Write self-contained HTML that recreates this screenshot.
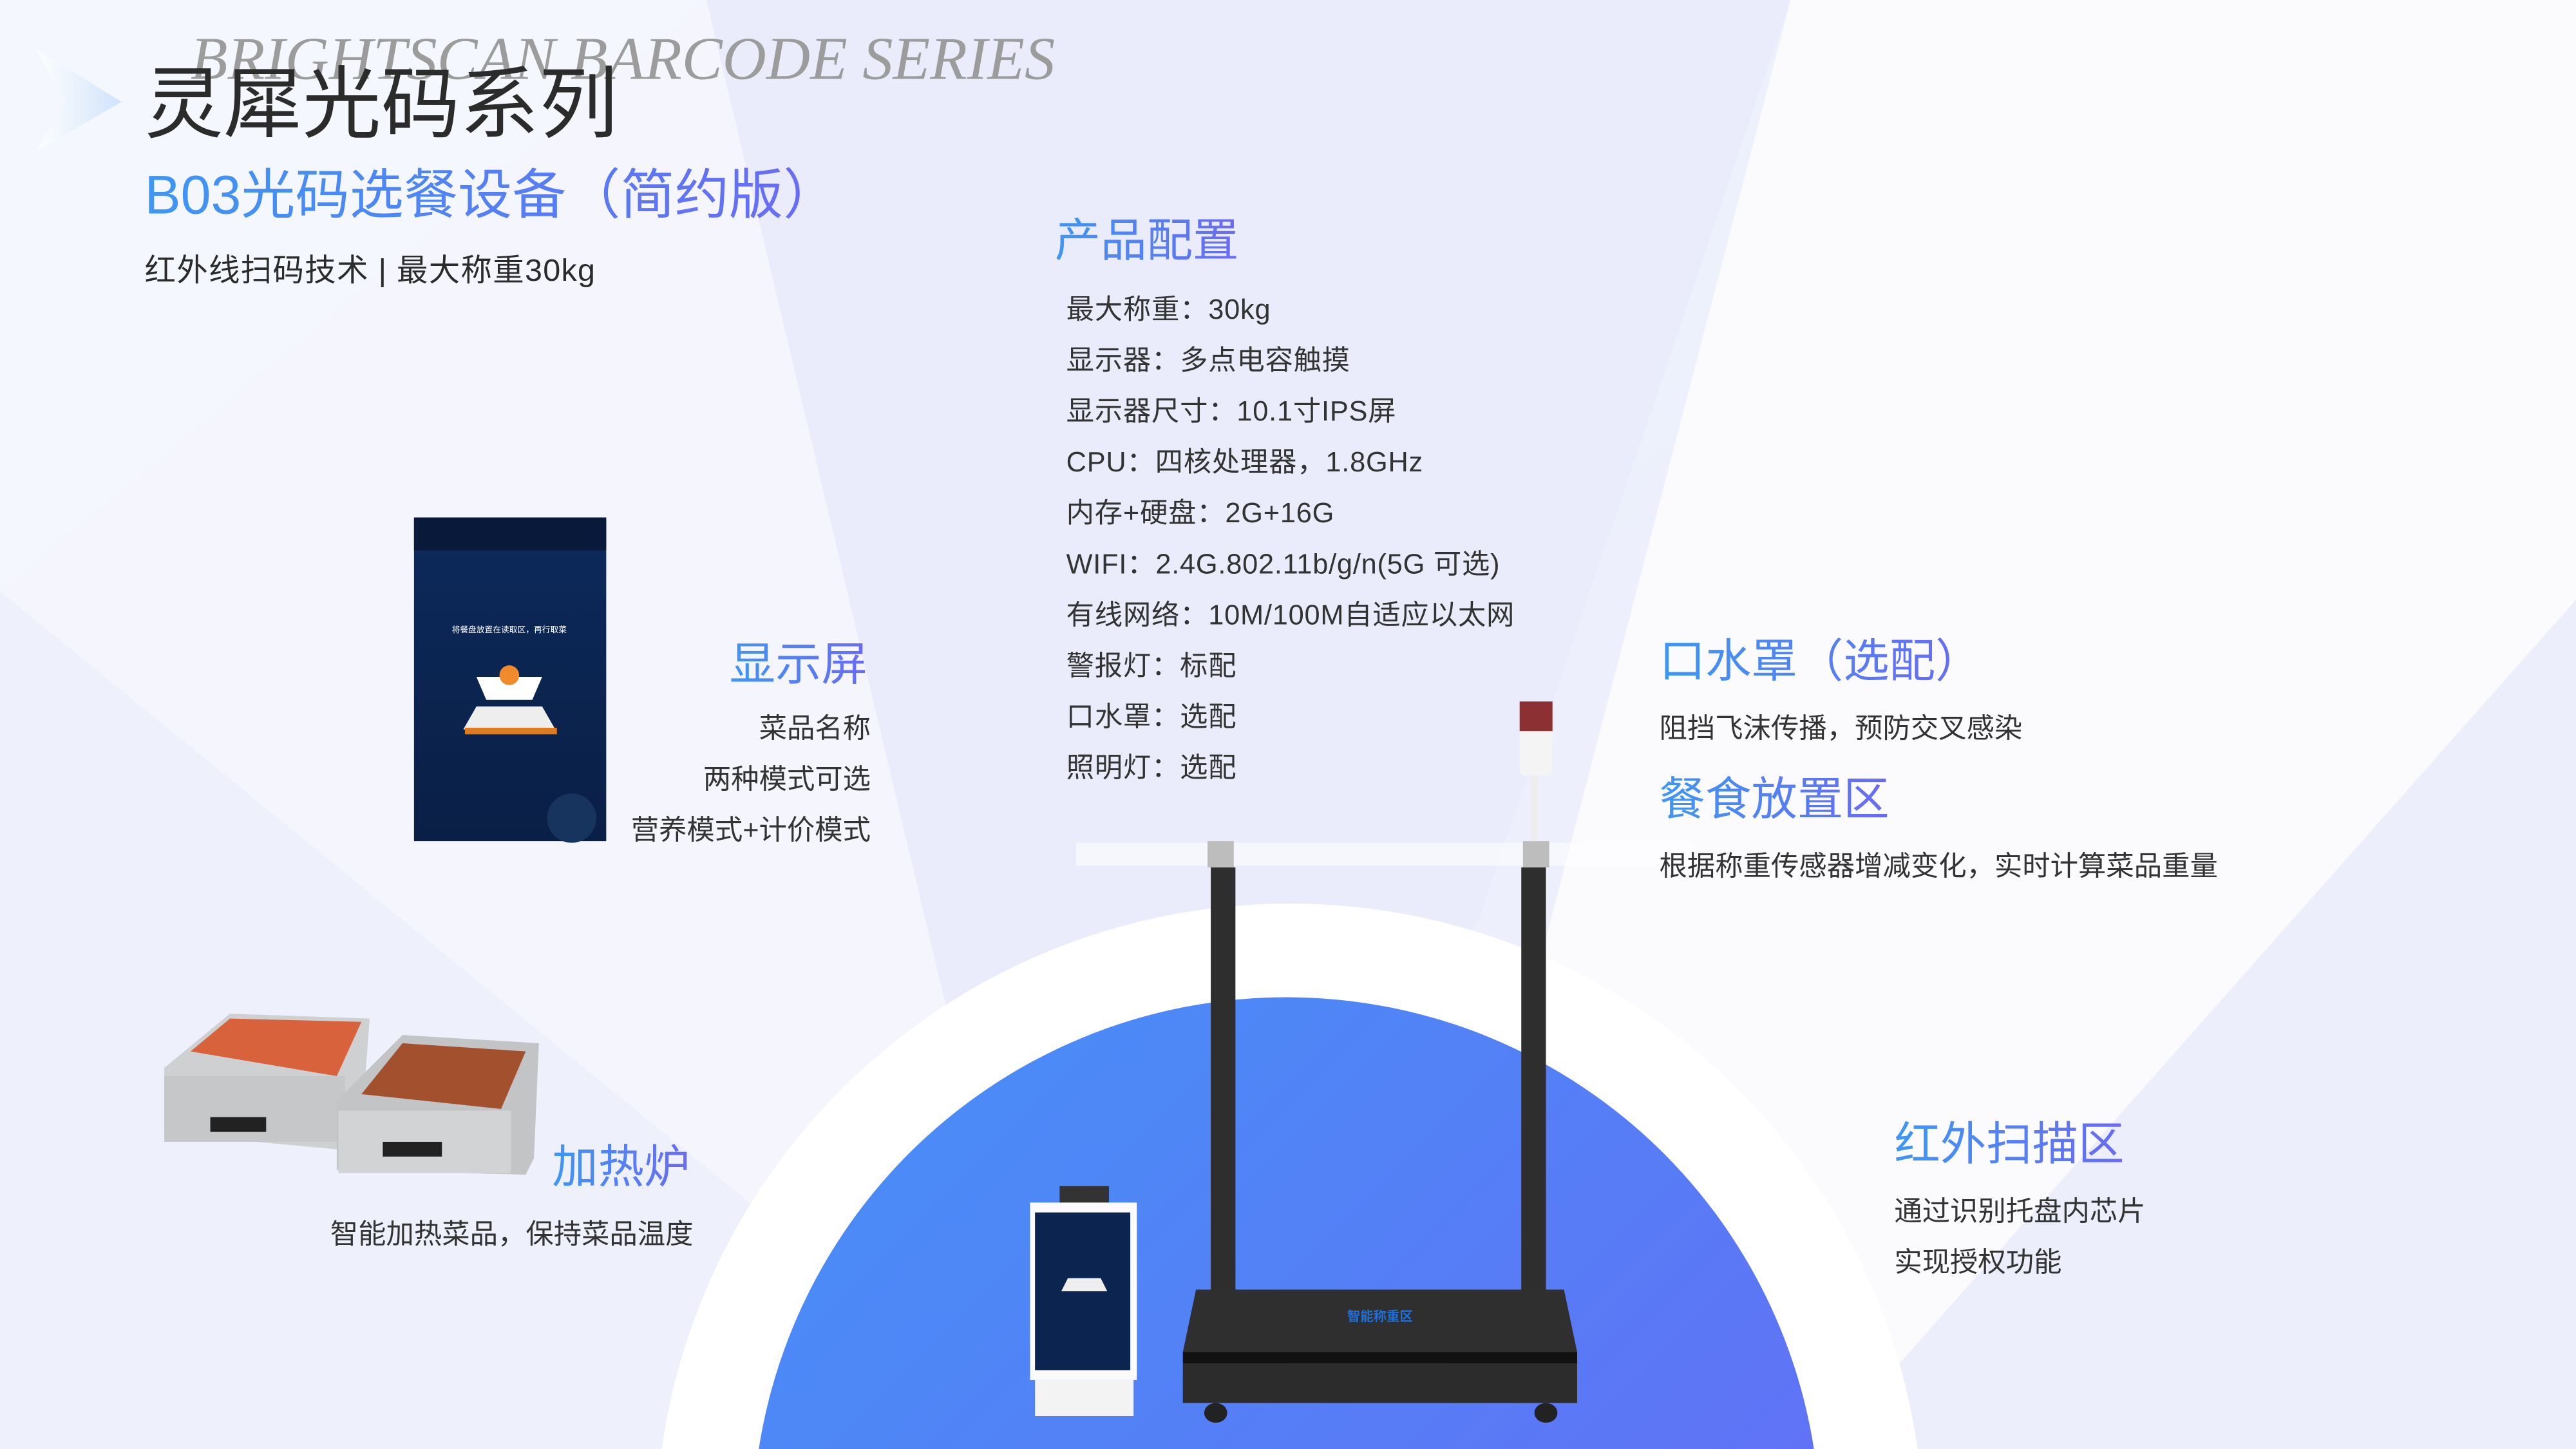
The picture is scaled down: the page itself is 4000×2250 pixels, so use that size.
<!DOCTYPE html>
<html><head><meta charset="utf-8"><style>
html,body{margin:0;padding:0;width:4000px;height:2250px;overflow:hidden;background:#f2f4fd}
#w{position:absolute;left:0;top:0;width:1568px;height:882px;transform:scale(2.55102);transform-origin:0 0;overflow:hidden;font-family:"Liberation Sans","Noto Sans CJK SC",sans-serif}
.t{position:absolute;white-space:nowrap}
.blue{background:linear-gradient(90deg,#3d97f5,#6a6af5);-webkit-background-clip:text;background-clip:text;color:transparent}
.list div{height:31px;font-size:17px;color:#333}
</style></head><body><div id="w">
<svg width="1568" height="882" style="position:absolute;left:0;top:0">
<defs>
<linearGradient id="bg" x1="0" y1="0" x2="1" y2="1"><stop offset="0" stop-color="#eef3fd"/><stop offset="1" stop-color="#eceefb"/></linearGradient>
<linearGradient id="bl" x1="0" y1="0" x2="1" y2="1"><stop offset="0" stop-color="#4591f7"/><stop offset="1" stop-color="#6b66f5"/></linearGradient>
<linearGradient id="scr" x1="0" y1="0" x2="0" y2="1"><stop offset="0" stop-color="#0c2a5c"/><stop offset="1" stop-color="#0a1f45"/></linearGradient>
<linearGradient id="arr" x1="0" y1="0" x2="1" y2="0"><stop offset="0" stop-color="#fff"/><stop offset="1" stop-color="#cfe3fb"/></linearGradient>
</defs>
<rect width="1568" height="882" fill="url(#bg)"/>
<polygon points="430,0 1090,0 900,560 640,882 0,882 0,360" fill="#e9ebfb" opacity="0.9"/>
<polygon points="0,0 430,0 640,882 0,882" fill="#f6f8fe" opacity="0.8"/>
<polygon points="1090,0 1568,0 1568,365 1120,882 860,882" fill="#fbfbfe"/>
<polygon points="1568,365 1568,882 1110,882" fill="#eceefb"/>
<polygon points="0,360 640,882 0,882" fill="#eef1fc"/>
<circle cx="785" cy="936" r="386" fill="#ffffff"/>
<circle cx="783" cy="932" r="325" fill="url(#bl)"/>
<polygon points="22,30 74,62 22,92 40,62" fill="url(#arr)"/>
<rect x="252" y="315" width="117" height="197" fill="url(#scr)"/>
<rect x="252" y="315" width="117" height="20" fill="#08193a"/>
<text x="310" y="385" font-size="5" fill="#fff" text-anchor="middle" font-family="Noto Sans CJK SC">将餐盘放置在读取区，再行取菜</text>
<polygon points="290,430 330,430 338,444 282,444" fill="#eee"/>
<rect x="283" y="443" width="56" height="4" fill="#e07a1f"/>
<polygon points="290,412 330,412 324,426 296,426" fill="#fff"/>
<circle cx="310" cy="411" r="6" fill="#f08a2a"/>
<circle cx="348" cy="498" r="15" fill="#17345f"/>
<polygon points="100,650 140,617 225,620 222,660 210,700 100,690" fill="#cfd0d2"/>
<polygon points="116,640 140,620 220,622 205,655" fill="#d8623c"/>
<rect x="100" y="655" width="110" height="40" fill="#c6c7c9"/>
<rect x="128" y="680" width="34" height="9" fill="#222"/>
<polygon points="205,670 245,630 328,635 325,705 320,715 205,712" fill="#c3c4c6"/>
<polygon points="220,666 245,635 320,640 305,675" fill="#a3502e"/>
<rect x="206" y="676" width="105" height="38" fill="#d2d3d5"/>
<rect x="233" y="695" width="36" height="9" fill="#222"/>
<rect x="655" y="513" width="375" height="14" fill="#ffffff" opacity="0.55"/>
<rect x="735" y="512" width="16" height="16" fill="#bdbdbd"/>
<rect x="927" y="512" width="16" height="16" fill="#bdbdbd"/>
<rect x="737" y="528" width="15" height="260" fill="#2e2e2e"/>
<rect x="926" y="528" width="15" height="260" fill="#2e2e2e"/>
<rect x="932" y="470" width="4" height="42" fill="#eee"/>
<rect x="925" y="427" width="20" height="45" rx="3" fill="#f4f4f4"/>
<rect x="925" y="427" width="20" height="18" fill="#8c3034"/>
<polygon points="728,785 952,785 960,823 720,823" fill="#2f2f2f"/>
<rect x="720" y="823" width="240" height="7" fill="#111"/>
<rect x="720" y="830" width="240" height="24" fill="#2c2c2c"/>
<ellipse cx="740" cy="860" rx="7" ry="6" fill="#222"/>
<ellipse cx="941" cy="860" rx="7" ry="6" fill="#222"/>
<text x="840" y="804" font-size="8" fill="#1f6fd8" text-anchor="middle" font-family="Noto Sans CJK SC" font-weight="bold">智能称重区</text>
<rect x="645" y="722" width="30" height="12" fill="#333"/>
<rect x="627" y="732" width="65" height="108" fill="#fbfbfb"/>
<rect x="630" y="738" width="58" height="96" fill="#0c2550"/>
<rect x="630" y="840" width="60" height="22" fill="#f3f3f3"/>
<polygon points="650,778 670,778 674,786 646,786" fill="#eee"/>
</svg>
<div class="t" style="left:116px;top:15px;font-family:'Liberation Serif',serif;font-style:italic;font-size:37px;color:#9c9c9c;letter-spacing:0px">BRIGHTSCAN BARCODE SERIES</div>
<div class="t" style="left:88px;top:24px;font-size:48px;color:#2b2b2b">灵犀光码系列</div>
<div class="t blue" style="left:88px;top:92px;font-size:33px">B03光码选餐设备（简约版）</div>
<div class="t" style="left:88px;top:150px;font-size:19px;color:#2b2b2b;letter-spacing:0.5px">红外线扫码技术 | 最大称重30kg</div>
<div class="t blue" style="left:642px;top:125px;font-size:28px">产品配置</div>
<div class="t list" style="left:649px;top:174px;letter-spacing:0.3px">
<div>最大称重：30kg</div><div>显示器：多点电容触摸</div><div>显示器尺寸：10.1寸IPS屏</div><div>CPU：四核处理器，1.8GHz</div><div>内存+硬盘：2G+16G</div><div>WIFI：2.4G.802.11b/g/n(5G 可选)</div><div>有线网络：10M/100M自适应以太网</div><div>警报灯：标配</div><div>口水罩：选配</div><div>照明灯：选配</div>
</div>
<div class="t blue" style="left:444px;top:383px;font-size:28px">显示屏</div>
<div class="t list" style="right:1038px;top:429px;text-align:right"><div>菜品名称</div><div>两种模式可选</div><div>营养模式+计价模式</div></div>
<div class="t blue" style="left:336px;top:689px;font-size:28px">加热炉</div>
<div class="t" style="left:201px;top:737px;font-size:17px;color:#333">智能加热菜品，保持菜品温度</div>
<div class="t blue" style="left:1010px;top:381px;font-size:28px">口水罩（选配）</div>
<div class="t" style="left:1010px;top:429px;font-size:17px;color:#333">阻挡飞沫传播，预防交叉感染</div>
<div class="t blue" style="left:1010px;top:465px;font-size:28px">餐食放置区</div>
<div class="t" style="left:1010px;top:513px;font-size:17px;color:#333">根据称重传感器增减变化，实时计算菜品重量</div>
<div class="t blue" style="left:1153px;top:675px;font-size:28px">红外扫描区</div>
<div class="t list" style="left:1153px;top:723px"><div>通过识别托盘内芯片</div><div>实现授权功能</div></div>
</div></body></html>
